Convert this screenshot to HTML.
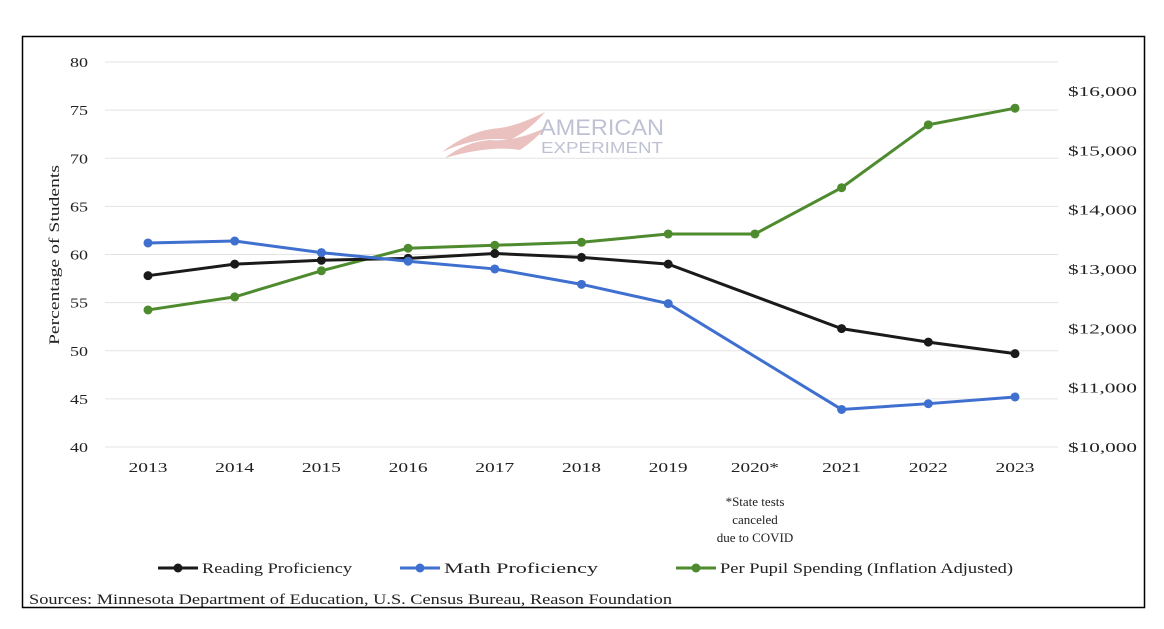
<!DOCTYPE html>
<html><head><meta charset="utf-8">
<style>
body{margin:0;background:#fff;width:1164px;height:624px;overflow:hidden;font-family:"Liberation Serif",serif;}
svg text{font-family:"Liberation Serif",serif;fill:#222;}
</style></head>
<body>
<svg id="chart" width="1164" height="624" xmlns="http://www.w3.org/2000/svg">
<rect x="22.5" y="36.5" width="1122" height="571" fill="#fff" stroke="#000" stroke-width="1.5"/>
<g id="grid"></g>
<g id="watermark" opacity="0.55">
  <path d="M442 152 Q480 135 510 140 Q530 130 545 112 Q520 125 500 128 Q470 130 442 152Z" fill="#d9908a"/>
  <path d="M445 158 Q490 145 520 150 Q535 140 545 128 Q515 142 490 140 Q465 142 445 158Z" fill="#d9908a"/>
  <text x="540" y="135" style="font-family:'Liberation Sans',sans-serif;fill:#8a90b0" font-size="22" textLength="124" lengthAdjust="spacingAndGlyphs">AMERICAN</text>
  <text x="541" y="153" style="font-family:'Liberation Sans',sans-serif;fill:#8a90b0" font-size="16" textLength="122" lengthAdjust="spacingAndGlyphs">EXPERIMENT</text>
</g>
<g id="axes"></g>
<g id="series"></g>
<text transform="translate(59,255) rotate(-90)" x="-90" font-size="15" textLength="180" lengthAdjust="spacingAndGlyphs">Percentage of Students</text>
<text text-anchor="middle" font-size="13"><tspan x="755" y="506">*State tests</tspan><tspan x="755" y="524">canceled</tspan><tspan x="755" y="542">due to COVID</tspan></text>
<g font-size="15">
  <g><line x1="158" y1="568" x2="198" y2="568" stroke="#1a1a1a" stroke-width="3"/><circle cx="178" cy="568" r="4.5" fill="#1a1a1a"/><text x="202" y="573" font-size="15" textLength="150" lengthAdjust="spacingAndGlyphs">Reading Proficiency</text></g>
  <g><line x1="400" y1="568" x2="440" y2="568" stroke="#3f6fcf" stroke-width="3"/><circle cx="420" cy="568" r="4.5" fill="#3f6fcf"/><text x="444" y="573" font-size="15" textLength="154" lengthAdjust="spacingAndGlyphs">Math Proficiency</text></g>
  <g><line x1="676" y1="568" x2="716" y2="568" stroke="#4e8a2e" stroke-width="3"/><circle cx="696" cy="568" r="4.5" fill="#4e8a2e"/><text x="720" y="573" font-size="15" textLength="293" lengthAdjust="spacingAndGlyphs">Per Pupil Spending (Inflation Adjusted)</text></g>
</g>
<text x="29" y="604" font-size="15" textLength="643" lengthAdjust="spacingAndGlyphs">Sources: Minnesota Department of Education, U.S. Census Bureau, Reason Foundation</text>
</svg>
<script>
const years=["2013","2014","2015","2016","2017","2018","2019","2020*","2021","2022","2023"];
const reading=[57.8,59.0,59.4,59.6,60.1,59.7,59.0,null,52.3,50.9,49.7];
const math=[61.2,61.4,60.2,59.3,58.5,56.9,54.9,null,43.9,44.5,45.2];
const spending=[12310,12530,12970,13350,13400,13450,13590,13590,14370,15430,15710];
const leftTicks=[40,45,50,55,60,65,70,75,80];
const rightTicks=[10000,11000,12000,13000,14000,15000,16000];
const NS="http://www.w3.org/2000/svg";
const x=i=>148+i*(1015-148)/10;
const yL=v=>447-(v-40)*(447-62)/40;
const yR=v=>447-(v-10000)*(447-91)/6000;
function mk(tag,attrs,parent){const e=document.createElementNS(NS,tag);for(const k in attrs)e.setAttribute(k,attrs[k]);parent.appendChild(e);return e;}
const grid=document.getElementById('grid'),axes=document.getElementById('axes'),series=document.getElementById('series');
leftTicks.forEach(t=>{
  const l=mk('line',{x1:105,x2:1058,y1:yL(t),y2:yL(t),stroke:'#e3e3e3','stroke-width':1},grid);
  
  
  const tx=mk('text',{x:70,y:yL(t)+5,'font-size':14,textLength:18,lengthAdjust:'spacingAndGlyphs'},axes);tx.textContent=t;
  
  
});
rightTicks.forEach(t=>{
  const tx=mk('text',{x:1068,y:yR(t)+5,'font-size':14,textLength:69,lengthAdjust:'spacingAndGlyphs'},axes);tx.textContent='$'+t.toLocaleString('en-US');
  
  
});
years.forEach((yv,i)=>{
  const w=yv.length>4?48:39;
  const tx=mk('text',{x:x(i)-(yv.length>4?24:19.5),y:472,'font-size':14,textLength:w,lengthAdjust:'spacingAndGlyphs'},axes);tx.textContent=yv;
  
  
});
function draw(vals,yf,color,name){
  const pts=[];vals.forEach((v,i)=>{if(v!==null)pts.push([x(i),yf(v)]);});
  const p=mk('polyline',{points:pts.map(q=>q.join(',')).join(' '),fill:'none',stroke:color,'stroke-width':3},series);
  
  
  pts.forEach(q=>{const c=mk('circle',{cx:q[0],cy:q[1],r:4.5,fill:color},series);
    
    });
}
draw(spending,yR,'#4e8a2e','spending');
draw(reading,yL,'#1a1a1a','reading');
draw(math,yL,'#3f6fcf','math');
</script>
</body></html>
